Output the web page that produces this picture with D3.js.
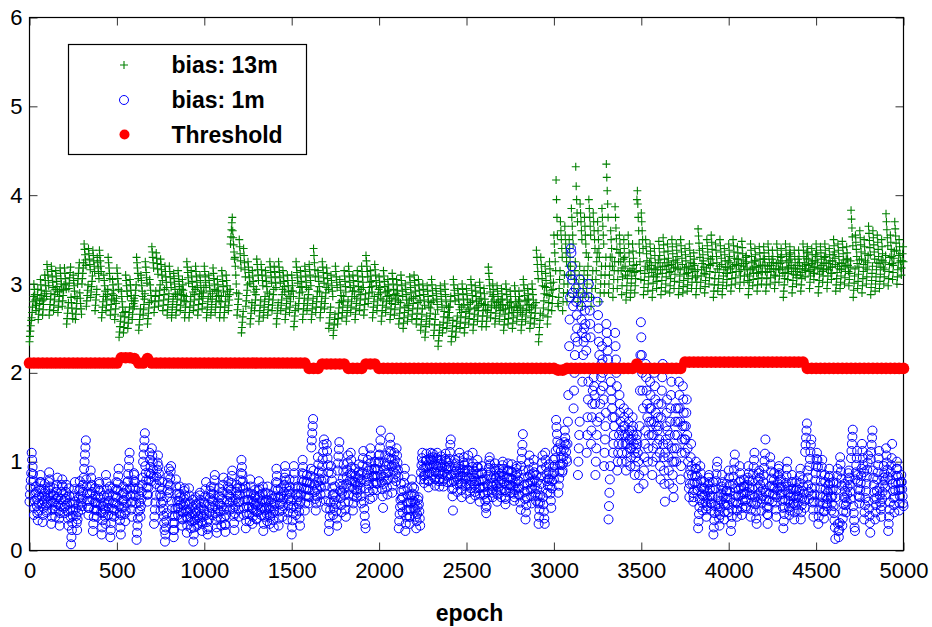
<!DOCTYPE html>
<html>
<head>
<meta charset="utf-8">
<script src="https://cdn.jsdelivr.net/npm/d3@7"></script>
<style>
  body { margin: 0; background: #fff; }
  svg { display: block; font-family: "Liberation Sans", Arial, Helvetica, sans-serif; }
  .tick text { fill: #000; }
  .tick line { stroke: #333; }
</style>
</head>
<body>
<svg id="chart"></svg>
<script>
// bias: 13m, one value every 2.5 epochs (0..5000), one row = 100 epochs
const bias13m = [
  2.35,2.41,2.47,2.53,2.59, 2.62,2.68,2.74,2.80,2.86, 3.00,2.94,2.88,2.82,2.76, 2.70,2.76,2.82,2.88,2.94, 2.60,2.66,2.72,2.78,2.84, 3.05,2.99,2.93,2.87,2.81, 2.65,2.71,2.77,2.83,2.89, 3.10,3.04,2.98,2.92,2.86,
  3.22,3.16,3.10,3.04,2.98, 2.65,2.71,2.77,2.83,2.89, 3.20,3.14,3.08,3.02,2.96, 2.70,2.76,2.82,2.88,2.94, 3.15,3.09,3.03,2.97,2.91, 2.68,2.74,2.80,2.86,2.92, 3.18,3.12,3.06,3.00,2.94, 2.75,2.81,2.87,2.93,2.99,
  3.18,3.12,3.06,3.00,2.94, 2.55,2.61,2.67,2.73,2.79, 2.95,3.01,3.07,3.13,3.19, 2.85,2.79,2.73,2.67,2.61, 3.10,3.04,2.98,2.92,2.86, 2.60,2.66,2.72,2.78,2.84, 3.00,3.06,3.12,3.18,3.24, 2.90,2.84,2.78,2.72,2.66,
  3.00,3.06,3.12,3.18,3.24, 3.45,3.39,3.33,3.27,3.21, 2.75,2.81,2.87,2.93,2.99, 3.40,3.34,3.28,3.22,3.16, 2.85,2.91,2.97,3.03,3.09, 3.38,3.32,3.26,3.20,3.14, 2.70,2.76,2.82,2.88,2.94, 3.30,3.24,3.18,3.12,3.06,
  3.38,3.32,3.26,3.20,3.14, 2.62,2.68,2.74,2.80,2.86, 3.10,3.04,2.98,2.92,2.86, 2.70,2.76,2.82,2.88,2.94, 3.30,3.24,3.18,3.12,3.06, 2.65,2.71,2.77,2.83,2.89, 3.05,2.99,2.93,2.87,2.81, 2.60,2.66,2.72,2.78,2.84,
  3.18,3.12,3.06,3.00,2.94, 2.40,2.46,2.52,2.58,2.64, 2.92,2.86,2.80,2.74,2.68, 2.45,2.51,2.57,2.63,2.69, 3.10,3.04,2.98,2.92,2.86, 2.50,2.56,2.62,2.68,2.74, 3.05,2.99,2.93,2.87,2.81, 2.60,2.66,2.72,2.78,2.84,
  2.75,2.81,2.87,2.93,2.99, 3.30,3.24,3.18,3.12,3.06, 2.48,2.54,2.60,2.66,2.72, 3.10,3.04,2.98,2.92,2.86, 2.65,2.71,2.77,2.83,2.89, 3.25,3.19,3.13,3.07,3.01, 2.55,2.61,2.67,2.73,2.79, 3.05,2.99,2.93,2.87,2.81,
  3.42,3.36,3.30,3.24,3.18, 2.68,2.74,2.80,2.86,2.92, 3.35,3.29,3.23,3.17,3.11, 2.75,2.81,2.87,2.93,2.99, 3.28,3.22,3.16,3.10,3.04, 2.70,2.76,2.82,2.88,2.94, 3.20,3.14,3.08,3.02,2.96, 2.65,2.71,2.77,2.83,2.89,
  3.20,3.14,3.08,3.02,2.96, 2.62,2.68,2.74,2.80,2.86, 3.12,3.06,3.00,2.94,2.88, 2.65,2.71,2.77,2.83,2.89, 3.15,3.09,3.03,2.97,2.91, 2.70,2.76,2.82,2.88,2.94, 3.05,2.99,2.93,2.87,2.81, 2.62,2.68,2.74,2.80,2.86,
  3.25,3.19,3.13,3.07,3.01, 2.62,2.68,2.74,2.80,2.86, 3.15,3.09,3.03,2.97,2.91, 2.70,2.76,2.82,2.88,2.94, 3.20,3.14,3.08,3.02,2.96, 2.65,2.71,2.77,2.83,2.89, 3.10,3.04,2.98,2.92,2.86, 2.72,2.78,2.84,2.90,2.96,
  3.20,3.14,3.08,3.02,2.96, 2.62,2.68,2.74,2.80,2.86, 3.10,3.04,2.98,2.92,2.86, 2.65,2.71,2.77,2.83,2.89, 3.18,3.12,3.06,3.00,2.94, 2.68,2.74,2.80,2.86,2.92, 3.05,2.99,2.93,2.87,2.81, 2.62,2.68,2.74,2.80,2.86,
  3.15,3.09,3.03,2.97,2.91, 2.62,2.68,2.74,2.80,2.86, 3.10,3.04,2.98,2.92,2.86, 2.70,2.76,2.82,2.88,2.94, 3.45,3.53,3.61,3.69,3.75, 3.60,3.52,3.44,3.36,3.28, 3.30,3.20,3.10,3.00,2.90, 2.65,2.71,2.77,2.83,2.89,
  3.50,3.42,3.34,3.26,3.18, 2.45,2.51,2.57,2.63,2.69, 3.40,3.32,3.24,3.16,3.08, 2.75,2.81,2.87,2.93,2.99, 3.25,3.19,3.13,3.07,3.01, 2.55,2.61,2.67,2.73,2.79, 3.15,3.09,3.03,2.97,2.91, 2.70,2.76,2.82,2.88,2.94,
  3.28,3.22,3.16,3.10,3.04, 2.58,2.64,2.70,2.76,2.82, 3.22,3.16,3.10,3.04,2.98, 2.62,2.68,2.74,2.80,2.86, 3.15,3.09,3.03,2.97,2.91, 2.65,2.71,2.77,2.83,2.89, 3.25,3.19,3.13,3.07,3.01, 2.70,2.76,2.82,2.88,2.94,
  3.20,3.14,3.08,3.02,2.96, 2.55,2.61,2.67,2.73,2.79, 3.25,3.19,3.13,3.07,3.01, 2.70,2.76,2.82,2.88,2.94, 3.15,3.09,3.03,2.97,2.91, 2.60,2.66,2.72,2.78,2.84, 3.10,3.04,2.98,2.92,2.86, 2.68,2.74,2.80,2.86,2.92,
  3.10,3.04,2.98,2.92,2.86, 2.52,2.58,2.64,2.70,2.76, 3.25,3.19,3.13,3.07,3.01, 2.72,2.78,2.84,2.90,2.96, 3.15,3.09,3.03,2.97,2.91, 2.60,2.66,2.72,2.78,2.84, 3.20,3.14,3.08,3.02,2.96, 2.70,2.76,2.82,2.88,2.94,
  3.22,3.16,3.10,3.04,2.98, 2.60,2.66,2.72,2.78,2.84, 3.40,3.32,3.24,3.16,3.08, 2.68,2.74,2.80,2.86,2.92, 3.15,3.09,3.03,2.97,2.91, 2.62,2.68,2.74,2.80,2.86, 3.25,3.19,3.13,3.07,3.01, 2.72,2.78,2.84,2.90,2.96,
  3.18,3.12,3.06,3.00,2.94, 2.50,2.56,2.62,2.68,2.74, 3.10,3.04,2.98,2.92,2.86, 2.42,2.48,2.54,2.60,2.66, 3.20,3.14,3.08,3.02,2.96, 2.55,2.61,2.67,2.73,2.79, 3.05,2.99,2.93,2.87,2.81, 2.62,2.68,2.74,2.80,2.86,
  3.15,3.09,3.03,2.97,2.91, 2.58,2.64,2.70,2.76,2.82, 3.20,3.14,3.08,3.02,2.96, 2.68,2.74,2.80,2.86,2.92, 3.10,3.04,2.98,2.92,2.86, 2.60,2.66,2.72,2.78,2.84, 3.15,3.09,3.03,2.97,2.91, 2.70,2.76,2.82,2.88,2.94,
  3.20,3.14,3.08,3.02,2.96, 2.65,2.71,2.77,2.83,2.89, 3.32,3.26,3.20,3.14,3.08, 2.78,2.84,2.90,2.96,3.02, 3.15,3.09,3.03,2.97,2.91, 2.62,2.68,2.74,2.80,2.86, 3.22,3.16,3.10,3.04,2.98, 2.70,2.76,2.82,2.88,2.94,
  3.08,3.02,2.96,2.90,2.84, 2.58,2.64,2.70,2.76,2.82, 3.15,3.09,3.03,2.97,2.91, 2.68,2.74,2.80,2.86,2.92, 3.05,2.99,2.93,2.87,2.81, 2.60,2.66,2.72,2.78,2.84, 3.12,3.06,3.00,2.94,2.88, 2.65,2.71,2.77,2.83,2.89,
  3.05,2.99,2.93,2.87,2.81, 2.55,2.61,2.67,2.73,2.79, 3.10,3.04,2.98,2.92,2.86, 2.50,2.56,2.62,2.68,2.74, 3.00,2.94,2.88,2.82,2.76, 2.58,2.64,2.70,2.76,2.82, 3.08,3.02,2.96,2.90,2.84, 2.60,2.66,2.72,2.78,2.84,
  3.10,3.04,2.98,2.92,2.86, 2.55,2.61,2.67,2.73,2.79, 3.05,2.99,2.93,2.87,2.81, 2.48,2.54,2.60,2.66,2.72, 3.00,2.94,2.88,2.82,2.76, 2.40,2.46,2.52,2.58,2.64, 2.98,2.92,2.86,2.80,2.74, 2.55,2.61,2.67,2.73,2.79,
  3.05,2.99,2.93,2.87,2.81, 2.42,2.48,2.54,2.60,2.66, 2.95,2.89,2.83,2.77,2.71, 2.30,2.36,2.42,2.48,2.54, 2.98,2.92,2.86,2.80,2.74, 2.45,2.51,2.57,2.63,2.69, 3.00,2.94,2.88,2.82,2.76, 2.50,2.56,2.62,2.68,2.74,
  2.62,2.68,2.74,2.80,2.86, 2.35,2.41,2.47,2.53,2.59, 3.05,2.99,2.93,2.87,2.81, 2.40,2.46,2.52,2.58,2.64, 2.95,2.89,2.83,2.77,2.71, 2.50,2.56,2.62,2.68,2.74, 3.00,2.94,2.88,2.82,2.76, 2.45,2.51,2.57,2.63,2.69,
  2.95,2.89,2.83,2.77,2.71, 2.55,2.61,2.67,2.73,2.79, 3.05,2.99,2.93,2.87,2.81, 2.48,2.54,2.60,2.66,2.72, 2.98,2.92,2.86,2.80,2.74, 2.58,2.64,2.70,2.76,2.82, 3.02,2.96,2.90,2.84,2.78, 2.52,2.58,2.64,2.70,2.76,
  2.95,2.89,2.83,2.77,2.71, 2.52,2.58,2.64,2.70,2.76, 3.19,3.12,3.05,2.98,2.91, 2.62,2.68,2.74,2.80,2.86, 3.00,2.94,2.88,2.82,2.76, 2.55,2.61,2.67,2.73,2.79, 2.98,2.92,2.86,2.80,2.74, 2.58,2.64,2.70,2.76,2.82,
  2.95,2.89,2.83,2.77,2.71, 2.48,2.54,2.60,2.66,2.72, 3.00,2.94,2.88,2.82,2.76, 2.55,2.61,2.67,2.73,2.79, 2.92,2.86,2.80,2.74,2.68, 2.50,2.56,2.62,2.68,2.74, 2.98,2.92,2.86,2.80,2.74, 2.58,2.64,2.70,2.76,2.82,
  2.92,2.86,2.80,2.74,2.68, 2.48,2.54,2.60,2.66,2.72, 3.05,2.99,2.93,2.87,2.81, 2.58,2.64,2.70,2.76,2.82, 2.95,2.89,2.83,2.77,2.71, 2.50,2.56,2.62,2.68,2.74, 3.00,2.94,2.88,2.82,2.76, 2.55,2.61,2.67,2.73,2.79,
  3.38,3.30,3.22,3.14,3.06, 2.35,2.43,2.51,2.59,2.67, 3.30,3.22,3.14,3.06,2.98, 2.65,2.73,2.81,2.89,2.97, 3.20,3.12,3.04,2.96,2.88, 2.55,2.63,2.71,2.79,2.87, 3.25,3.17,3.09,3.01,2.93, 2.70,2.78,2.86,2.94,3.02,
  3.55,3.45,3.35,3.25,3.15, 4.17,3.95,3.75,3.55,2.78, 2.75,2.85,2.95,3.05,3.15, 3.70,3.60,3.50,3.40,3.30, 2.70,2.80,2.90,3.00,3.10, 3.65,3.55,3.45,3.35,3.25, 2.80,2.90,3.00,3.10,3.20, 3.50,3.40,3.30,3.20,3.10,
  3.85,3.75,3.65,3.55,3.45, 2.85,2.95,3.05,3.15,3.25, 4.32,4.10,3.95,3.80,3.70, 2.80,2.90,3.00,3.10,3.20, 3.90,3.80,3.70,3.60,3.50, 2.75,2.85,2.95,3.05,3.15, 3.75,3.65,3.55,3.45,3.35, 2.90,3.00,3.10,3.20,3.30,
  3.95,3.85,3.75,3.65,3.55, 2.75,2.85,2.95,3.05,3.15, 3.80,3.70,3.60,3.50,3.40, 2.95,3.05,3.15,3.25,3.35, 3.70,3.60,3.50,3.40,3.30, 2.80,2.90,3.00,3.10,3.20, 3.85,3.75,3.65,3.55,3.45, 2.90,3.00,3.10,3.20,3.30,
  4.35,4.20,4.05,3.90,3.75, 2.90,3.00,3.10,3.20,3.30, 3.60,3.50,3.40,3.30,3.20, 2.85,2.95,3.05,3.15,3.25, 3.87,3.75,3.63,3.51,3.39, 2.95,3.05,3.15,3.25,3.35, 3.55,3.45,3.35,3.25,3.15, 2.88,2.98,3.08,3.18,3.28,
  3.50,3.40,3.30,3.20,3.10, 2.82,2.90,2.98,3.06,3.14, 3.55,3.45,3.35,3.25,3.15, 2.85,2.93,3.01,3.09,3.17, 3.45,3.37,3.29,3.21,3.13, 2.90,2.98,3.06,3.14,3.22, 3.95,4.05,3.90,3.75,3.60, 3.45,3.35,3.25,3.15,3.05,
  3.80,3.70,3.60,3.50,3.40, 2.88,2.96,3.04,3.12,3.20, 3.50,3.42,3.34,3.26,3.18, 2.92,3.00,3.08,3.16,3.24, 3.45,3.37,3.29,3.21,3.13, 2.85,2.93,3.01,3.09,3.17, 3.40,3.32,3.24,3.16,3.08, 2.95,3.03,3.11,3.19,3.27,
  3.48,3.40,3.32,3.24,3.16, 2.88,2.96,3.04,3.12,3.20, 3.52,3.44,3.36,3.28,3.20, 2.92,3.00,3.08,3.16,3.24, 3.45,3.37,3.29,3.21,3.13, 2.90,2.98,3.06,3.14,3.22, 3.50,3.42,3.34,3.26,3.18, 2.95,3.03,3.11,3.19,3.27,
  3.45,3.38,3.31,3.24,3.17, 2.88,2.95,3.02,3.09,3.16, 3.50,3.43,3.36,3.29,3.22, 2.90,2.97,3.04,3.11,3.18, 3.40,3.33,3.26,3.19,3.12, 2.92,2.99,3.06,3.13,3.20, 3.45,3.38,3.31,3.24,3.17, 2.95,3.02,3.09,3.16,3.23,
  3.35,3.28,3.21,3.14,3.07, 2.88,2.95,3.02,3.09,3.16, 3.62,3.54,3.46,3.38,3.30, 2.95,3.02,3.09,3.16,3.23, 3.40,3.33,3.26,3.19,3.12, 2.90,2.97,3.04,3.11,3.18, 3.50,3.43,3.36,3.29,3.22, 3.00,3.07,3.14,3.21,3.28,
  3.55,3.47,3.39,3.31,3.23, 2.85,2.92,2.99,3.06,3.13, 3.45,3.38,3.31,3.24,3.17, 2.92,2.99,3.06,3.13,3.20, 3.50,3.43,3.36,3.29,3.22, 2.88,2.95,3.02,3.09,3.16, 3.40,3.33,3.26,3.19,3.12, 2.98,3.05,3.12,3.19,3.26,
  3.45,3.38,3.31,3.24,3.17, 2.92,2.99,3.06,3.13,3.20, 3.50,3.43,3.36,3.29,3.22, 3.00,3.07,3.14,3.21,3.28, 3.42,3.35,3.28,3.21,3.14, 2.95,3.02,3.09,3.16,3.23, 3.48,3.41,3.34,3.27,3.20, 3.02,3.09,3.16,3.23,3.30,
  3.32,3.25,3.18,3.11,3.04, 2.88,2.95,3.02,3.09,3.16, 3.45,3.38,3.31,3.24,3.17, 2.98,3.05,3.12,3.19,3.26, 3.40,3.33,3.26,3.19,3.12, 2.92,2.99,3.06,3.13,3.20, 3.42,3.35,3.28,3.21,3.14, 3.00,3.07,3.14,3.21,3.28,
  3.42,3.35,3.28,3.21,3.14, 2.92,2.99,3.06,3.13,3.20, 3.45,3.38,3.31,3.24,3.17, 3.00,3.07,3.14,3.21,3.28, 3.38,3.31,3.24,3.17,3.10, 2.95,3.02,3.09,3.16,3.23, 3.45,3.38,3.31,3.24,3.17, 3.02,3.09,3.16,3.23,3.30,
  3.40,3.33,3.26,3.19,3.12, 2.85,2.92,2.99,3.06,3.13, 3.45,3.38,3.31,3.24,3.17, 3.05,3.12,3.19,3.26,3.33, 3.42,3.35,3.28,3.21,3.14, 2.90,2.97,3.04,3.11,3.18, 3.38,3.31,3.24,3.17,3.10, 3.00,3.07,3.14,3.21,3.28,
  3.38,3.31,3.24,3.17,3.10, 2.92,2.99,3.06,3.13,3.20, 3.45,3.38,3.31,3.24,3.17, 3.08,3.15,3.22,3.29,3.36, 3.42,3.35,3.28,3.21,3.14, 2.95,3.02,3.09,3.16,3.23, 3.40,3.33,3.26,3.19,3.12, 3.05,3.12,3.19,3.26,3.33,
  3.45,3.38,3.31,3.24,3.17, 2.90,2.97,3.04,3.11,3.18, 3.42,3.35,3.28,3.21,3.14, 3.02,3.09,3.16,3.23,3.30, 3.45,3.38,3.31,3.24,3.17, 2.95,3.02,3.09,3.16,3.23, 3.40,3.33,3.26,3.19,3.12, 3.05,3.12,3.19,3.26,3.33,
  3.50,3.43,3.36,3.29,3.22, 2.92,2.99,3.06,3.13,3.20, 3.45,3.38,3.31,3.24,3.17, 2.95,3.02,3.09,3.16,3.23, 3.48,3.41,3.34,3.27,3.20, 3.00,3.07,3.14,3.21,3.28, 3.42,3.35,3.28,3.21,3.14, 2.98,3.05,3.12,3.19,3.26,
  3.83,3.73,3.63,3.53,3.43, 2.85,2.93,3.01,3.09,3.17, 3.55,3.47,3.39,3.31,3.23, 2.95,3.03,3.11,3.19,3.27, 3.60,3.52,3.44,3.36,3.28, 2.90,2.98,3.06,3.14,3.22, 3.50,3.42,3.34,3.26,3.18, 3.00,3.08,3.16,3.24,3.32,
  3.65,3.57,3.49,3.41,3.33, 2.88,2.96,3.04,3.12,3.20, 3.60,3.52,3.44,3.36,3.28, 2.92,3.00,3.08,3.16,3.24, 3.55,3.47,3.39,3.31,3.23, 2.95,3.03,3.11,3.19,3.27, 3.50,3.42,3.34,3.26,3.18, 3.00,3.08,3.16,3.24,3.32,
  3.79,3.70,3.61,3.52,3.43, 2.98,3.06,3.14,3.22,3.30, 3.55,3.47,3.39,3.31,3.23, 3.05,3.13,3.21,3.29,3.37, 3.70,3.62,3.54,3.46,3.38, 3.00,3.08,3.16,3.24,3.32, 3.50,3.42,3.34,3.26,3.18, 3.10,3.18,3.26,3.34,3.42,
  3.25
];

// bias: 1m, one value every 2.5 epochs (0..5000), one row = 100 epochs
const bias1m = [
  0.55,0.63,0.71,0.79,0.87, 1.10,1.02,0.94,0.86,0.78, 0.40,0.48,0.56,0.64,0.72, 0.66,0.58,0.50,0.42,0.34, 0.45,0.53,0.61,0.69,0.77, 0.85,0.77,0.69,0.61,0.53, 0.32,0.40,0.48,0.56,0.64, 0.75,0.67,0.59,0.51,0.43,
  0.45,0.53,0.61,0.69,0.77, 0.88,0.80,0.72,0.64,0.56, 0.30,0.38,0.46,0.54,0.62, 0.70,0.62,0.54,0.46,0.38, 0.50,0.58,0.66,0.74,0.82, 0.60,0.52,0.44,0.36,0.28, 0.42,0.50,0.58,0.66,0.74, 0.80,0.72,0.64,0.56,0.48,
  0.42,0.50,0.58,0.66,0.74, 0.60,0.52,0.44,0.36,0.28, 0.70,0.62,0.54,0.46,0.38, 0.07,0.15,0.23,0.31,0.39, 0.45,0.53,0.61,0.69,0.77, 0.55,0.47,0.39,0.31,0.23, 0.35,0.43,0.51,0.59,0.67, 0.78,0.70,0.62,0.54,0.46,
  0.50,0.58,0.66,0.74,0.82, 0.92,1.00,1.08,1.16,1.24, 0.80,0.72,0.64,0.56,0.48, 0.40,0.48,0.56,0.64,0.72, 0.90,0.82,0.74,0.66,0.58, 0.22,0.30,0.38,0.46,0.54, 0.70,0.62,0.54,0.46,0.38, 0.45,0.53,0.61,0.69,0.77,
  0.75,0.67,0.59,0.51,0.43, 0.18,0.26,0.34,0.42,0.50, 0.62,0.54,0.46,0.38,0.30, 0.85,0.77,0.69,0.61,0.53, 0.40,0.48,0.56,0.64,0.72, 0.15,0.23,0.31,0.39,0.47, 0.70,0.62,0.54,0.46,0.38, 0.45,0.53,0.61,0.69,0.77,
  0.60,0.68,0.76,0.84,0.92, 0.50,0.42,0.34,0.26,0.18, 0.40,0.48,0.56,0.64,0.72, 0.65,0.57,0.49,0.41,0.33, 0.45,0.53,0.61,0.69,0.77, 0.78,0.86,0.94,1.02,1.10, 0.70,0.62,0.54,0.46,0.38, 0.55,0.63,0.71,0.79,0.87,
  0.85,0.77,0.69,0.61,0.53, 0.12,0.20,0.28,0.36,0.44, 0.70,0.62,0.54,0.46,0.38, 0.50,0.58,0.66,0.74,0.82, 1.00,1.08,1.16,1.24,1.32, 0.95,0.87,0.79,0.71,0.63, 0.55,0.63,0.71,0.79,0.87, 1.10,1.02,0.94,0.86,0.78,
  1.15,1.07,0.99,0.91,0.83, 0.30,0.38,0.46,0.54,0.62, 0.75,0.83,0.91,0.99,1.07, 0.95,0.87,0.79,0.71,0.63, 0.45,0.53,0.61,0.69,0.77, 0.55,0.47,0.39,0.31,0.23, 0.10,0.18,0.26,0.34,0.42, 0.60,0.68,0.76,0.84,0.92,
  0.65,0.73,0.81,0.89,0.95, 0.55,0.47,0.39,0.31,0.23, 0.15,0.23,0.31,0.39,0.47, 0.80,0.72,0.64,0.56,0.48, 0.40,0.48,0.56,0.64,0.72, 0.60,0.52,0.44,0.36,0.28, 0.35,0.43,0.51,0.59,0.67, 0.70,0.62,0.54,0.46,0.38,
  0.20,0.28,0.36,0.44,0.52, 0.70,0.62,0.54,0.46,0.38, 0.25,0.33,0.41,0.49,0.57, 0.10,0.18,0.26,0.34,0.42, 0.60,0.52,0.44,0.36,0.28, 0.30,0.38,0.46,0.54,0.62, 0.65,0.57,0.49,0.41,0.33, 0.22,0.30,0.38,0.46,0.54,
  0.45,0.53,0.61,0.69,0.77, 0.40,0.32,0.24,0.18,0.26, 0.35,0.43,0.51,0.59,0.67, 0.72,0.64,0.56,0.48,0.40, 0.55,0.63,0.71,0.79,0.85, 0.50,0.42,0.34,0.26,0.20, 0.38,0.46,0.54,0.62,0.70, 0.60,0.52,0.44,0.36,0.28,
  0.50,0.58,0.66,0.74,0.82, 0.45,0.37,0.29,0.21,0.29, 0.40,0.48,0.56,0.64,0.72, 0.78,0.70,0.62,0.54,0.46, 0.60,0.68,0.76,0.84,0.90, 0.55,0.47,0.39,0.31,0.23, 0.42,0.50,0.58,0.66,0.74, 0.70,0.62,0.54,0.46,0.38,
  0.55,0.63,0.71,0.79,0.87, 1.02,0.94,0.86,0.78,0.70, 0.40,0.48,0.56,0.64,0.72, 0.25,0.33,0.41,0.49,0.57, 0.65,0.57,0.49,0.41,0.33, 0.80,0.72,0.64,0.56,0.48, 0.30,0.38,0.46,0.54,0.62, 0.68,0.60,0.52,0.44,0.36,
  0.35,0.43,0.51,0.59,0.67, 0.78,0.70,0.62,0.54,0.46, 0.40,0.48,0.56,0.64,0.72, 0.22,0.30,0.38,0.46,0.54, 0.65,0.57,0.49,0.41,0.33, 0.72,0.64,0.56,0.48,0.40, 0.30,0.38,0.46,0.54,0.62, 0.58,0.50,0.42,0.34,0.26,
  0.45,0.53,0.61,0.69,0.77, 0.92,0.84,0.76,0.68,0.60, 0.28,0.36,0.44,0.52,0.60, 0.70,0.62,0.54,0.46,0.38, 0.50,0.58,0.66,0.74,0.82, 0.95,0.87,0.79,0.71,0.63, 0.35,0.43,0.51,0.59,0.67, 0.80,0.72,0.64,0.56,0.48,
  0.18,0.26,0.34,0.42,0.50, 0.95,0.87,0.79,0.71,0.63, 0.40,0.48,0.56,0.64,0.72, 0.60,0.52,0.44,0.36,0.28, 0.55,0.63,0.71,0.79,0.87, 1.02,0.94,0.86,0.78,0.70, 0.45,0.53,0.61,0.69,0.77, 0.85,0.77,0.69,0.61,0.53,
  0.60,0.68,0.76,0.84,0.92, 1.16,1.24,1.32,1.40,1.48, 0.90,0.82,0.74,0.66,0.58, 0.45,0.53,0.61,0.69,0.77, 1.05,0.97,0.89,0.81,0.73, 0.55,0.63,0.71,0.79,0.87, 0.95,1.03,1.11,1.19,1.25, 0.80,0.72,0.64,0.56,0.48,
  1.20,1.12,1.04,0.96,0.88, 0.22,0.30,0.38,0.46,0.54, 0.95,0.87,0.79,0.71,0.63, 0.40,0.48,0.56,0.64,0.72, 0.60,0.52,0.44,0.36,0.28, 0.90,0.98,1.06,1.14,1.22, 0.75,0.67,0.59,0.51,0.43, 0.65,0.73,0.81,0.89,0.97,
  0.70,0.62,0.54,0.46,0.38, 0.75,0.83,0.91,0.99,1.07, 0.55,0.63,0.71,0.79,0.87, 1.10,1.02,0.94,0.86,0.78, 0.45,0.53,0.61,0.69,0.77, 0.92,0.84,0.76,0.68,0.60, 0.65,0.73,0.81,0.89,0.97, 0.85,0.77,0.69,0.61,0.53,
  0.80,0.88,0.96,1.04,1.12, 0.55,0.47,0.39,0.30,0.25, 0.70,0.78,0.86,0.94,1.02, 0.90,0.82,0.74,0.66,0.58, 1.15,1.07,0.99,0.91,0.83, 0.60,0.68,0.76,0.84,0.92, 1.00,0.92,0.84,0.76,0.68, 0.75,0.83,0.91,0.99,1.07,
  1.00,1.08,1.16,1.24,1.35, 0.85,0.77,0.69,0.61,0.48, 0.75,0.83,0.91,0.99,1.07, 0.95,0.87,0.79,0.71,0.63, 0.80,0.88,0.96,1.04,1.12, 1.27,1.19,1.11,1.03,0.95, 0.65,0.73,0.81,0.89,0.97, 1.10,1.02,0.94,0.86,0.78,
  1.15,1.07,0.99,0.91,0.83, 0.25,0.33,0.41,0.49,0.57, 0.75,0.67,0.59,0.51,0.43, 0.60,0.68,0.76,0.84,0.92, 0.22,0.30,0.38,0.46,0.54, 0.70,0.62,0.54,0.46,0.38, 0.30,0.38,0.46,0.54,0.62, 0.80,0.72,0.64,0.56,0.48,
  0.70,0.62,0.54,0.46,0.38, 0.25,0.33,0.41,0.49,0.57, 0.60,0.52,0.44,0.36,0.28, 0.80,0.88,0.96,1.04,1.10, 1.00,0.92,0.84,0.76,0.80, 0.85,0.93,1.01,1.09,1.02, 0.95,0.87,0.79,0.71,0.78, 0.88,0.96,1.04,1.10,1.02,
  0.85,0.93,1.01,1.09,1.05, 0.97,0.89,0.81,0.73,0.80, 0.88,0.96,1.04,1.10,1.02, 0.94,0.86,0.78,0.72,0.80, 0.90,0.98,1.06,1.02,0.94, 0.86,0.78,0.72,0.80,0.88, 0.95,1.03,1.09,1.01,0.93, 0.85,0.77,0.83,0.91,0.99,
  0.95,1.03,1.11,1.19,1.25, 0.85,0.77,0.69,0.61,0.45, 0.70,0.78,0.86,0.94,1.02, 0.98,0.90,0.82,0.74,0.66, 0.80,0.88,0.96,1.04,1.10, 0.92,0.84,0.76,0.68,0.60, 0.75,0.83,0.91,0.99,1.05, 0.96,0.88,0.80,0.72,0.64,
  0.75,0.83,0.91,0.99,1.07, 0.90,0.82,0.74,0.66,0.58, 0.70,0.78,0.86,0.94,1.10, 0.98,0.90,0.82,0.74,0.66, 0.62,0.70,0.78,0.86,0.94, 1.02,0.94,0.86,0.78,0.70, 0.55,0.63,0.71,0.79,0.87, 0.95,0.87,0.79,0.71,0.63,
  0.80,0.72,0.64,0.56,0.48, 0.42,0.50,0.58,0.66,0.74, 0.85,0.93,1.01,1.05,0.97, 0.89,0.81,0.73,0.65,0.72, 0.60,0.68,0.76,0.84,0.92, 0.98,0.90,0.82,0.74,0.66, 0.55,0.63,0.71,0.79,0.87, 0.92,0.84,0.76,0.68,0.60,
  0.80,0.88,0.96,1.00,0.92, 0.84,0.76,0.68,0.60,0.52, 0.58,0.66,0.74,0.82,0.90, 0.98,0.90,0.82,0.74,0.70, 0.65,0.73,0.81,0.89,0.97, 0.88,0.80,0.72,0.64,0.56, 0.60,0.68,0.76,0.84,0.92, 0.95,0.87,0.79,0.71,0.63,
  0.78,0.70,0.62,0.54,0.46, 0.95,1.03,1.11,1.19,1.31, 0.90,0.82,0.74,0.66,0.58, 0.35,0.43,0.51,0.59,0.67, 0.75,0.83,0.91,0.99,1.07, 0.85,0.77,0.69,0.61,0.53, 0.70,0.78,0.86,0.94,1.02, 0.88,0.80,0.72,0.64,0.56,
  0.85,0.77,0.69,0.61,0.53, 0.30,0.38,0.46,0.54,0.62, 0.75,0.83,0.91,0.99,1.07, 0.60,0.52,0.44,0.36,0.30, 1.10,1.02,0.94,0.86,0.78, 0.65,0.73,0.81,0.89,0.97, 0.80,0.72,0.64,0.56,0.48, 0.70,0.78,0.86,0.94,1.02,
  0.80,0.88,0.96,1.04,1.12, 1.47,1.39,1.31,1.23,1.15, 0.65,0.73,0.81,0.89,0.97, 1.20,1.12,1.04,0.96,0.88, 0.90,0.98,1.06,1.14,1.22, 1.35,1.27,1.19,1.11,1.03, 1.00,1.20,1.45,1.75,2.05, 2.30,2.60,2.85,3.10,3.40,
  3.35,3.20,3.05,2.90,2.75, 1.60,1.80,2.00,2.20,2.40, 2.95,2.80,2.65,2.50,2.35, 0.85,1.00,1.15,1.30,1.45, 3.05,2.90,2.75,2.60,2.45, 1.90,2.05,2.20,2.35,2.50, 2.85,2.70,2.55,2.40,2.25, 1.10,1.30,1.50,1.70,1.90,
  3.00,2.85,2.70,2.55,2.40, 1.20,1.35,1.50,1.65,1.80, 2.05,1.95,1.85,1.75,1.65, 0.85,1.00,1.15,1.30,1.45, 2.80,2.65,2.50,2.35,2.20, 1.50,1.65,1.80,1.95,2.10, 2.30,2.15,2.00,1.85,1.70, 0.95,1.10,1.25,1.40,1.55,
  2.55,2.45,2.35,2.25,2.15, 0.35,0.50,0.65,0.80,0.95, 1.90,1.80,1.70,1.60,1.50, 1.10,1.20,1.30,1.40,1.50, 2.45,2.30,2.15,2.00,1.85, 0.90,1.00,1.10,1.20,1.30, 1.75,1.65,1.55,1.45,1.35, 1.00,1.10,1.20,1.30,1.40,
  1.60,1.50,1.40,1.30,1.20, 0.90,1.00,1.10,1.20,1.30, 1.55,1.45,1.35,1.25,1.15, 0.95,1.05,1.15,1.25,1.35, 1.50,1.40,1.30,1.20,1.10, 0.85,0.95,1.05,1.15,1.25, 1.30,1.20,1.10,1.00,0.70, 0.85,1.40,1.80,2.20,2.57,
  2.40,2.20,2.00,1.80,1.60, 0.75,0.90,1.05,1.20,1.35, 2.10,1.95,1.80,1.65,1.50, 1.00,1.15,1.30,1.45,1.60, 1.90,1.75,1.60,1.45,1.30, 0.85,1.00,1.15,1.30,1.45, 2.00,1.85,1.70,1.55,1.40, 1.05,1.20,1.35,1.50,1.65,
  1.40,1.25,1.10,0.95,0.80, 1.50,1.65,1.80,1.95,2.10, 1.20,1.05,0.90,0.75,0.55, 1.10,1.25,1.40,1.55,1.70, 1.35,1.20,1.05,0.90,0.75, 1.30,1.45,1.60,1.75,1.90, 1.15,1.00,0.85,0.70,0.60, 1.00,1.15,1.30,1.45,1.60,
  1.00,1.15,1.30,1.45,1.60, 2.05,1.90,1.75,1.60,1.45, 0.80,0.95,1.10,1.25,1.40, 1.85,1.70,1.55,1.40,1.25, 1.10,1.25,1.40,1.55,1.70, 1.30,1.15,1.00,0.85,0.70, 0.60,0.75,0.90,1.05,1.20, 0.95,0.85,0.75,0.65,0.55,
  0.60,0.68,0.76,0.84,0.92, 1.00,0.92,0.84,0.76,0.68, 0.25,0.33,0.41,0.49,0.57, 0.95,0.87,0.79,0.71,0.63, 0.45,0.53,0.61,0.69,0.77, 0.70,0.62,0.54,0.46,0.38, 0.50,0.58,0.66,0.74,0.82, 0.85,0.77,0.69,0.61,0.53,
  0.45,0.53,0.61,0.69,0.77, 0.18,0.26,0.34,0.42,0.50, 0.70,0.78,0.86,0.94,1.00, 0.60,0.52,0.44,0.36,0.28, 0.40,0.48,0.56,0.64,0.72, 0.85,0.77,0.69,0.61,0.53, 0.35,0.43,0.51,0.59,0.67, 0.75,0.67,0.59,0.51,0.43,
  0.90,0.82,0.74,0.66,0.58, 0.22,0.30,0.38,0.46,0.54, 0.75,0.83,0.91,0.99,1.08, 0.70,0.62,0.54,0.46,0.38, 0.45,0.53,0.61,0.69,0.77, 0.95,0.87,0.79,0.71,0.63, 0.40,0.48,0.56,0.64,0.72, 0.80,0.72,0.64,0.56,0.48,
  0.50,0.58,0.66,0.74,0.82, 0.95,0.87,0.79,0.71,0.63, 0.38,0.46,0.54,0.62,0.70, 0.78,0.86,0.94,1.02,1.10, 0.60,0.52,0.44,0.36,0.30, 0.55,0.63,0.71,0.79,0.87, 0.90,0.82,0.74,0.66,0.58, 0.45,0.53,0.61,0.69,0.77,
  0.85,0.93,1.01,1.09,1.25, 0.65,0.57,0.49,0.41,0.30, 0.40,0.48,0.56,0.64,0.72, 1.05,0.97,0.89,0.81,0.73, 0.55,0.63,0.71,0.79,0.87, 0.70,0.62,0.54,0.46,0.38, 0.60,0.68,0.76,0.84,0.92, 0.95,0.87,0.79,0.71,0.63,
  0.80,0.72,0.64,0.56,0.48, 0.25,0.33,0.41,0.49,0.57, 0.68,0.76,0.84,0.92,1.00, 0.72,0.64,0.56,0.48,0.40, 0.45,0.53,0.61,0.69,0.77, 0.85,0.77,0.69,0.61,0.53, 0.35,0.43,0.51,0.59,0.67, 0.78,0.70,0.62,0.54,0.46,
  0.60,0.68,0.76,0.84,0.92, 0.35,0.43,0.51,0.59,0.67, 0.80,0.72,0.64,0.56,0.48, 1.11,1.19,1.27,1.35,1.43, 0.90,0.82,0.74,0.66,0.58, 0.95,1.03,1.11,1.19,1.25, 0.70,0.62,0.54,0.46,0.38, 0.55,0.63,0.71,0.79,0.87,
  0.95,1.03,1.10,1.02,0.94, 0.30,0.38,0.46,0.54,0.62, 0.70,0.78,0.86,0.94,1.02, 0.60,0.52,0.44,0.36,0.44, 0.85,0.77,0.69,0.61,0.53, 0.50,0.58,0.66,0.74,0.82, 0.92,0.84,0.76,0.68,0.60, 0.45,0.53,0.61,0.69,0.77,
  0.50,0.42,0.34,0.26,0.13, 0.60,0.68,0.76,0.84,0.92, 0.30,0.22,0.15,0.23,0.31, 1.05,0.97,0.89,0.81,0.73, 0.28,0.36,0.44,0.52,0.60, 0.75,0.67,0.59,0.51,0.43, 0.55,0.63,0.71,0.79,0.87, 0.90,0.82,0.74,0.66,0.58,
  1.04,1.12,1.20,1.28,1.36, 0.50,0.42,0.34,0.26,0.22, 0.80,0.88,0.96,1.04,1.12, 0.85,0.77,0.69,0.61,0.53, 0.60,0.68,0.76,0.84,0.92, 1.20,1.12,1.04,0.96,0.88, 0.35,0.43,0.51,0.59,0.67, 0.75,0.83,0.91,0.99,1.07,
  0.55,0.47,0.39,0.31,0.20, 1.03,1.11,1.19,1.27,1.35, 0.90,0.82,0.74,0.66,0.58, 0.35,0.43,0.51,0.59,0.67, 0.80,0.88,0.96,1.04,1.12, 0.70,0.62,0.54,0.46,0.38, 0.50,0.58,0.66,0.74,0.82, 0.95,0.87,0.79,0.71,0.63,
  1.15,1.07,0.99,0.91,0.83, 0.22,0.30,0.38,0.46,0.54, 0.80,0.88,0.96,1.04,1.20, 0.75,0.67,0.59,0.51,0.43, 0.60,0.68,0.76,0.84,0.92, 1.00,0.92,0.84,0.76,0.68, 0.45,0.53,0.61,0.69,0.77, 0.85,0.77,0.69,0.61,0.53,
  0.50
];

// Threshold, one value every 25 epochs (0..5000)
const threshold = [
  2.11,2.11,2.11,2.11,2.11,2.11,2.11,2.11,2.11,2.11,2.11,2.11,2.11,2.11,2.11,2.11,2.11,2.11,2.11,2.11,2.11,
  2.17,2.17,2.17,2.16,2.11,2.11,2.16,
  2.11,2.11,2.11,2.11,2.11,2.11,2.11,2.11,2.11,2.11,2.11,2.11,2.11,2.11,2.11,2.11,2.11,2.11,
  2.11,2.11,2.11,2.11,2.11,2.11,2.11,2.11,2.11,2.11,2.11,2.11,2.11,2.11,2.11,2.11,2.11,2.11,
  2.05,2.05,2.05,2.10,2.10,2.10,2.10,2.10,2.10,2.05,2.05,2.05,2.05,2.10,2.10,2.10,
  2.05,2.05,2.05,2.05,2.05,2.05,2.05,2.05,2.05,2.05,2.05,2.05,2.05,2.05,2.05,2.05,2.05,2.05,2.05,2.05,
  2.05,2.05,2.05,2.05,2.05,2.05,2.05,2.05,2.05,2.05,2.05,2.05,2.05,2.05,2.05,2.05,2.05,2.05,2.05,2.05,2.05,
  2.03,2.03,
  2.05,2.05,2.05,2.05,2.05,2.05,2.05,2.05,2.05,2.05,2.05,2.05,2.05,2.05,2.05,2.05,
  2.10,
  2.05,2.05,2.05,2.05,2.05,2.05,2.05,2.05,2.05,2.05,
  2.12,2.12,2.12,2.12,2.12,2.12,2.12,2.12,2.12,2.12,2.12,2.12,2.12,2.12,
  2.12,2.12,2.12,2.12,2.12,2.12,2.12,2.12,2.12,2.12,2.12,2.12,2.12,2.12,
  2.05,2.05,2.05,2.05,2.05,2.05,2.05,2.05,2.05,2.05,2.05,2.05,
  2.05,2.05,2.05,2.05,2.05,2.05,2.05,2.05,2.05,2.05,2.05
];

const epochMax = 5000;
const xTicks = [0, 500, 1000, 1500, 2000, 2500, 3000, 3500, 4000, 4500, 5000];
const yTicks = [0, 1, 2, 3, 4, 5, 6];
const legendLabels = ['bias: 13m', 'bias: 1m', 'Threshold'];

const config = {
  containerWidth: 932,
  containerHeight: 627,
  margin: {top: 17.5, right: 28.5, bottom: 76.5, left: 29.5}
};
const width = config.containerWidth - config.margin.left - config.margin.right;
const height = config.containerHeight - config.margin.top - config.margin.bottom;

const svg = d3.select('#chart')
    .attr('width', config.containerWidth)
    .attr('height', config.containerHeight);

svg.append('rect')
    .attr('width', config.containerWidth)
    .attr('height', config.containerHeight)
    .attr('fill', '#fff');

const chart = svg.append('g')
    .attr('transform', `translate(${config.margin.left},${config.margin.top})`);

// scales
const xScale = d3.scaleLinear().domain([0, epochMax]).range([0, width]);
const yScale = d3.scaleLinear().domain([0, 6]).range([height, 0]);

// epoch of sample i in a series spread evenly over 0..5000
const epochOf = (arr, i) => i * epochMax / (arr.length - 1);

// axes, ticks pointing inwards (matlab style) on all four sides
const tickLen = 8;
chart.append('g')
    .attr('transform', `translate(0,${height})`)
    .call(d3.axisBottom(xScale).tickValues(xTicks).tickSize(-tickLen).tickPadding(12).tickFormat(d => d))
    .call(g => g.select('.domain').remove());
chart.append('g')
    .call(d3.axisTop(xScale).tickValues(xTicks).tickSize(-tickLen).tickFormat(''))
    .call(g => g.select('.domain').remove());
chart.append('g')
    .call(d3.axisLeft(yScale).tickValues(yTicks).tickSize(-tickLen).tickPadding(7).tickFormat(d => d))
    .call(g => g.select('.domain').remove());
chart.append('g')
    .attr('transform', `translate(${width},0)`)
    .call(d3.axisRight(yScale).tickValues(yTicks).tickSize(-tickLen).tickFormat(''))
    .call(g => g.select('.domain').remove());

chart.selectAll('.tick text').attr('font-size', 22);

// frame
chart.append('rect')
    .attr('width', width)
    .attr('height', height)
    .attr('fill', 'none')
    .attr('stroke', '#000')
    .attr('stroke-width', 1.2);

const plusPath = 'M-4,0H4M0,-4V4';

// bias: 13m (green plus)
chart.append('g').selectAll('path')
    .data(bias13m)
  .join('path')
    .attr('d', plusPath)
    .attr('transform', (d, i) => `translate(${xScale(epochOf(bias13m, i))},${yScale(d)})`)
    .attr('stroke', '#008000')
    .attr('stroke-width', 1.1)
    .attr('fill', 'none');

// bias: 1m (blue open circles)
chart.append('g').selectAll('circle')
    .data(bias1m)
  .join('circle')
    .attr('cx', (d, i) => xScale(epochOf(bias1m, i)))
    .attr('cy', d => yScale(d))
    .attr('r', 4.5)
    .attr('fill', 'none')
    .attr('stroke', '#0000ff')
    .attr('stroke-width', 1);

// threshold (red dots)
chart.append('g').selectAll('circle')
    .data(threshold)
  .join('circle')
    .attr('cx', (d, i) => xScale(epochOf(threshold, i)))
    .attr('cy', d => yScale(d))
    .attr('r', 5.8)
    .attr('fill', '#ff0000');

// x label
svg.append('text')
    .attr('x', config.margin.left + width / 2 + 3)
    .attr('y', 621)
    .attr('text-anchor', 'middle')
    .attr('font-size', 23)
    .attr('font-weight', 'bold')
    .text('epoch');

// legend
const legend = svg.append('g').attr('transform', 'translate(68.5,44.5)');
legend.append('rect')
    .attr('width', 238)
    .attr('height', 110)
    .attr('fill', '#fff')
    .attr('stroke', '#000')
    .attr('stroke-width', 1.2);

const rowY = [20.5, 55.5, 90];
legend.append('path')
    .attr('d', plusPath)
    .attr('transform', `translate(55.5,${rowY[0]})`)
    .attr('stroke', '#008000')
    .attr('stroke-width', 1.1);
legend.append('circle')
    .attr('cx', 55.5).attr('cy', rowY[1]).attr('r', 4.5)
    .attr('fill', 'none').attr('stroke', '#0000ff');
legend.append('circle')
    .attr('cx', 56).attr('cy', rowY[2]).attr('r', 5)
    .attr('fill', '#ff0000');

legend.selectAll('text.lbl')
    .data(legendLabels)
  .join('text')
    .attr('class', 'lbl')
    .attr('x', 103)
    .attr('y', (d, i) => rowY[i])
    .attr('dy', '0.36em')
    .attr('font-size', 23)
    .attr('font-weight', 'bold')
    .text(d => d);
</script>
</body>
</html>
